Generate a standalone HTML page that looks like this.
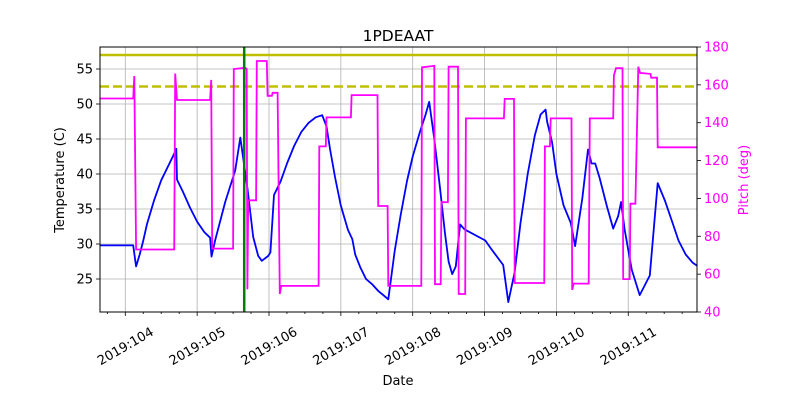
<!DOCTYPE html>
<html><head><meta charset="utf-8"><style>
body{margin:0;background:#fff}
svg{font-family:"DejaVu Sans","Liberation Sans",sans-serif;display:block}
</style></head><body>
<svg id="chart" width="800" height="400" viewBox="0 0 800 400" xmlns="http://www.w3.org/2000/svg"></svg>
<script>
const tempDays=[103.65,104.11,104.14,104.15,104.2,104.25,104.3,104.4,104.5,104.6,104.68,104.71,104.72,104.8,104.9,105.0,105.1,105.18,105.2,105.25,105.39,105.53,105.6,105.7,105.78,105.85,105.9,105.99,106.02,106.07,106.16,106.25,106.35,106.45,106.55,106.65,106.74,106.8,106.85,106.92,107.0,107.1,107.16,107.2,107.27,107.35,107.44,107.52,107.66,107.75,107.83,107.92,108.0,108.1,108.18,108.23,108.3,108.38,108.45,108.5,108.55,108.6,108.66,108.72,109.01,109.1,109.26,109.33,109.42,109.5,109.6,109.7,109.78,109.85,109.87,109.94,110.0,110.1,110.2,110.26,110.36,110.44,110.49,110.54,110.6,110.7,110.79,110.86,110.9,110.95,111.05,111.16,111.3,111.41,111.51,111.6,111.7,111.8,111.9,111.96];
const tempValues=[29.8,29.8,27.5,26.8,28.5,30.5,32.8,36.2,39.1,41.2,42.9,43.6,39.2,37.5,35.2,33.2,31.7,30.9,28.2,30.5,36,40.5,45.2,38,31,28.3,27.6,28.3,28.8,37,38.9,41.5,44,46,47.3,48.1,48.4,46.8,43.5,39.5,35.5,32,30.7,28.5,26.7,25,24.2,23.3,22.1,29,34,39,42.5,46,48.5,50.3,45,38,31.5,27.5,25.7,26.8,32.8,32.1,30.5,29.2,27,21.7,26,33,40,45.5,48.5,49.2,47.5,44.5,40,35.5,33,29.7,36.5,43.5,41.5,41.5,39.5,35.5,32.2,34,36,32,26.3,22.7,25.5,38.7,36.2,33.5,30.5,28.5,27.3,26.9];
const pitchDays=[103.65,104.11,104.125,104.15,104.68,104.695,104.72,105.18,105.196,105.21,105.5,105.51,105.67,105.69,105.70,105.71,105.82,105.83,105.97,105.98,106.04,106.05,106.12,106.15,106.17,106.69,106.70,106.79,106.80,107.14,107.15,107.51,107.52,107.65,107.66,108.12,108.13,108.3,108.31,108.39,108.40,108.49,108.50,108.63,108.64,108.73,108.74,109.27,109.28,109.41,109.42,109.83,109.84,109.91,109.92,110.21,110.22,110.24,110.45,110.465,110.79,110.80,110.83,110.92,110.93,111.02,111.03,111.1,111.14,111.165,111.31,111.32,111.40,111.41,111.96];
const pitchValues=[152.8,152.8,164.7,73,73,166,152,152,162.6,73.5,73.5,168.4,169,168.4,52,99,99,172.6,172.6,154.2,154.2,155.8,155.8,49.5,53.8,53.8,127.5,127.5,142.8,142.8,154.6,154.6,96,96,53.8,53.8,169.3,170,54.7,54.7,98,98,169.6,169.6,49.5,49.5,142.3,142.3,152.6,152.6,55.3,55.3,127.5,127.5,142.3,142.3,51.7,55,55,142.3,142.3,165,168.8,168.8,57.4,57.4,97.2,97.2,169.6,166.3,165.8,163.8,163.8,127,127];
const xTickDays=[104,105,106,107,108,109,110,111];
const xTickLabels=["2019:104","2019:105","2019:106","2019:107","2019:108","2019:109","2019:110","2019:111"];
const leftTicks=[25,30,35,40,45,50,55];
const rightTicks=[40,60,80,100,120,140,160,180];
const planningLimit=[57];
const cautionLimit=[52.5];
const eventDay=[105.655];

const L=100,R=697,T=47,B=312;
const x=d=>125.3+(d-104)*71.85;
const yT=v=>69-(v-55)*7.0;
const yP=v=>T+(180-v)*(B-T)/140;
const svg=document.getElementById('chart');
const NS='http://www.w3.org/2000/svg';
function mk(tag,attrs,txt){const e=document.createElementNS(NS,tag);for(const k in attrs)e.setAttribute(k,attrs[k]);if(txt!==undefined)e.textContent=txt;svg.appendChild(e);return e;}

xTickDays.forEach(d=>{const e=mk('line',{x1:x(d),x2:x(d),y1:T,y2:B,stroke:'#b0b0b0','stroke-width':0.8});

});
leftTicks.forEach(v=>{const e=mk('line',{x1:L,x2:R,y1:yT(v),y2:yT(v),stroke:'#b0b0b0','stroke-width':0.8});

});

planningLimit.forEach(v=>{const e=mk('line',{x1:L,x2:R,y1:yT(v),y2:yT(v),stroke:'#bfbf00','stroke-width':2.5});

});
cautionLimit.forEach(v=>{const e=mk('line',{x1:L,x2:R,y1:yT(v),y2:yT(v),stroke:'#bfbf00','stroke-width':2.5,'stroke-dasharray':'9,4'});

});

let p=tempDays.map((d,i)=>x(d).toFixed(1)+','+yT(tempValues[i]).toFixed(1)).join(' ');
let t=mk('polyline',{points:p,fill:'none',stroke:'#0000ff','stroke-width':1.8,'stroke-linejoin':'round'});


p=pitchDays.map((d,i)=>x(d).toFixed(1)+','+yP(pitchValues[i]).toFixed(1)).join(' ');
let pl=mk('polyline',{points:p,fill:'none',stroke:'#ff00ff','stroke-width':1.8});



eventDay.forEach(d=>{const e=mk('line',{x1:x(d),x2:x(d),y1:T,y2:B,stroke:'#008000','stroke-width':2.5});

});

const fr=mk('rect',{x:L,y:T,width:R-L,height:B-T,fill:'none',stroke:'#000','stroke-width':1});



for(let d=103.75;d<112;d+=0.25){const xx=x(d);if(xx<L||xx>R)continue;const major=Math.abs(d-Math.round(d))<1e-6;
const e=mk('line',{x1:xx,x2:xx,y1:B,y2:B+(major?4:2),stroke:'#000','stroke-width':0.8});

}
xTickDays.forEach((d,i)=>{const xx=x(d),yy=346;
const e=mk('text',{x:xx,y:yy+4.5,'font-size':13,'text-anchor':'middle',transform:`rotate(-30 ${xx} ${yy})`},xTickLabels[i]);

});
leftTicks.forEach(v=>{const y=yT(v);
const a=mk('line',{x1:L-4,x2:L,y1:y,y2:y,stroke:'#000','stroke-width':0.8});


const e=mk('text',{x:L-7,y:y+4.5,'font-size':13,'text-anchor':'end'},String(v));

});
rightTicks.forEach(v=>{const y=yP(v);
const a=mk('line',{x1:R,x2:R+4,y1:y,y2:y,stroke:'#000','stroke-width':0.8});


const e=mk('text',{x:R+7,y:y+4.5,'font-size':13,fill:'#ff00ff'},String(v));

});

let e;
e=mk('text',{x:398,y:41,'font-size':15.5,'text-anchor':'middle'},'1PDEAAT');


e=mk('text',{x:398,y:385,'font-size':13,'text-anchor':'middle'},'Date');


e=mk('text',{x:64,y:180,'font-size':13,'text-anchor':'middle',transform:'rotate(-90 64 180)'},'Temperature (C)');


e=mk('text',{x:748,y:180,'font-size':13,'text-anchor':'middle',fill:'#ff00ff',transform:'rotate(-90 748 180)'},'Pitch (deg)');


</script>
</body></html>
